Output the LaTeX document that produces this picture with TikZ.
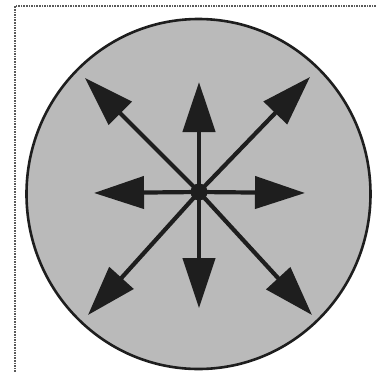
\documentclass[tikz,border=0pt]{standalone}
\usetikzlibrary{arrows.meta}
\definecolor{c1}{HTML}{1E1E1E}
\definecolor{disc}{HTML}{BABABA}
\definecolor{frame}{HTML}{5A5A5A}

\begin{document}
\begin{tikzpicture}[
    x=1pt, y=-1pt,
    rim/.style={draw=c1, fill=disc, line width=2.6pt},
    edge/.style={frame, line width=1.6pt, densely dotted},
    arr/.style={-{Triangle[length=50pt, width=32pt]}, line width=4.2pt, color=c1},
    hub/.style={circle, fill=c1, inner sep=0pt, minimum size=17pt},
]
\useasboundingbox (0,0) rectangle (376,373);

% ============================================================ the page edge
\draw[edge] (376,6) -- (15,6) -- (15,373);

% ============================================================ the disc
\draw[rim] (198.5,194) ellipse [x radius=172, y radius=175];

% ============================================================ the eight arrows
\node[hub] (hub) at (199,192) {};
\foreach \n/\x/\y in {up/199/82, down/199/308, left/94/193, right/305/193,
                      ul/85/78, ur/310/77, dl/88/315, dr/312/315}{
    \coordinate (tip-\n) at (\x,\y);
    \draw[arr] (hub.center) -- (tip-\n);
}

\end{tikzpicture}
\end{document}
